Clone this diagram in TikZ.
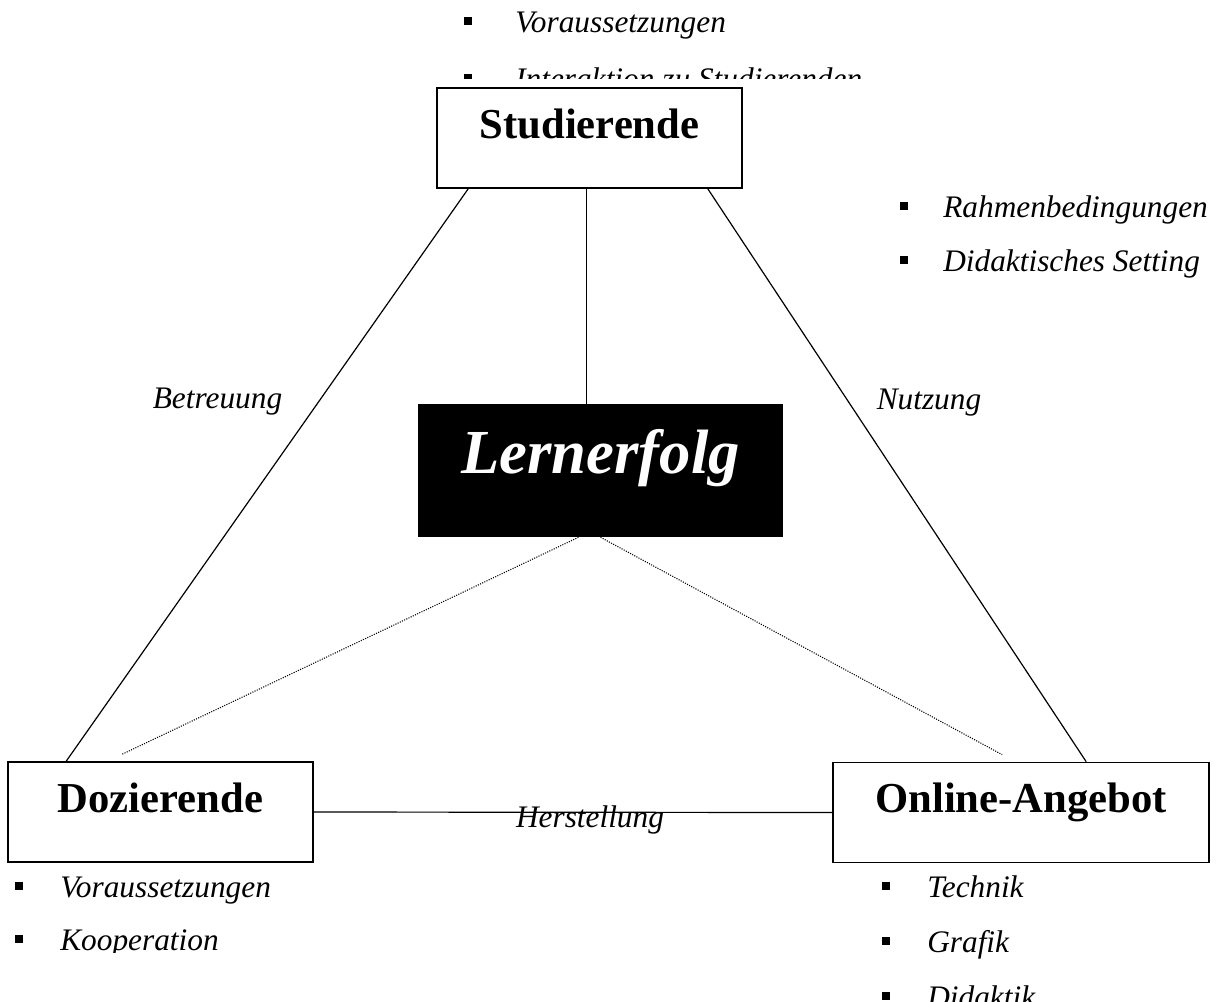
\documentclass[tikz,border=0pt]{standalone}
\usepackage{fontspec}
\setmainfont{Liberation Serif}
\usetikzlibrary{calc}

\tikzset{
  partbox/.style={draw, line width=1.2pt, fill=white, minimum height=75pt, inner sep=0pt,
    font=\bfseries\fontsize{32}{38}\selectfont, text height=18pt, text depth=18pt},
  goalbox/.style={fill=black, text=white, minimum width=273.75pt, minimum height=99.75pt, inner sep=0pt,
    font=\bfseries\itshape\fontsize{47}{54}\selectfont, text height=24pt, text depth=20pt},
  linklabel/.style={anchor=base, inner sep=0pt, font=\itshape\fontsize{23.5}{28}\selectfont},
  listitem/.style={anchor=base west, inner sep=0pt, font=\itshape\fontsize{23.5}{28}\selectfont},
  bulletsq/.style={fill=black, minimum size=6pt, inner sep=0pt},
  link/.style={line width=0.9pt},
  weaklink/.style={line width=0.8pt, densely dotted}
}

\begin{document}
\begin{tikzpicture}[x=0.75pt,y=-0.75pt]
\useasboundingbox (0,0) rectangle (1223,1001);
\node[partbox, minimum width=228.75pt] (stud) at (589.5,138) {Studierende};
\node[partbox, minimum width=228.75pt] (doz) at (160.5,812) {Dozierende};
\node[partbox, minimum width=282pt] (onl) at (1021,812.5) {Online-Angebot};
\node[goalbox] (lern) at (600.5,470.5) {Lernerfolg};
\draw[link] ($(stud.south west)+(32,0)$) -- ($(doz.north west)+(59,0)$);
\draw[link] ($(stud.south east)+(-35,0)$) -- ($(onl.north west)+(254,0)$);
\draw[link] ($(stud.south)+(-3,0)$) -- ($(stud.south |- lern.north)+(-3,0)$);
\draw[link] (doz.east) -- (onl.west);
\draw[weaklink] ($(lern.south)+(-22,0)$) -- ($(doz.north west)+(115,-7)$);
\draw[weaklink] (lern.south) -- ($(onl.north west)+(170,-7)$);
\node[linklabel] (betr) at (217.5,408) {Betreuung};
\node[linklabel] (nutz) at (929,409) {Nutzung};
\node[linklabel] (herst) at (590,827) {Herstellung};
\begin{scope}
\clip (0,0) rectangle (1223,78);
\foreach \txt [count=\i from 0] in {Voraussetzungen, Interaktion zu Studierenden}{
  \node[bulletsq] (sb\i) at (468,{20.5+57*\i}) {};
  \node[listitem] (st\i) at (515,{32+57*\i}) {\txt};
}
\end{scope}
\foreach \txt [count=\i from 0] in {Rahmenbedingungen, Didaktisches Setting}{
  \node[bulletsq] (rb\i) at (903.5,{206+54*\i}) {};
  \node[listitem] (rt\i) at (943,{217+54*\i}) {\txt};
}
\begin{scope}
\clip (0,0) rectangle (1223,952);
\foreach \txt [count=\i from 0] in {Voraussetzungen, Kooperation}{
  \node[bulletsq] (db\i) at (19,{885.5+53*\i}) {};
  \node[listitem] (dt\i) at (60,{897+53*\i}) {\txt};
}
\end{scope}
\begin{scope}
\clip (0,0) rectangle (1223,1001);
\foreach \txt [count=\i from 0] in {Technik, Grafik, Didaktik}{
  \node[bulletsq] (ob\i) at (886,{885.5+55*\i}) {};
  \node[listitem] (ot\i) at (927,{897+55*\i}) {\txt};
}
\end{scope}
\end{tikzpicture}
\end{document}
